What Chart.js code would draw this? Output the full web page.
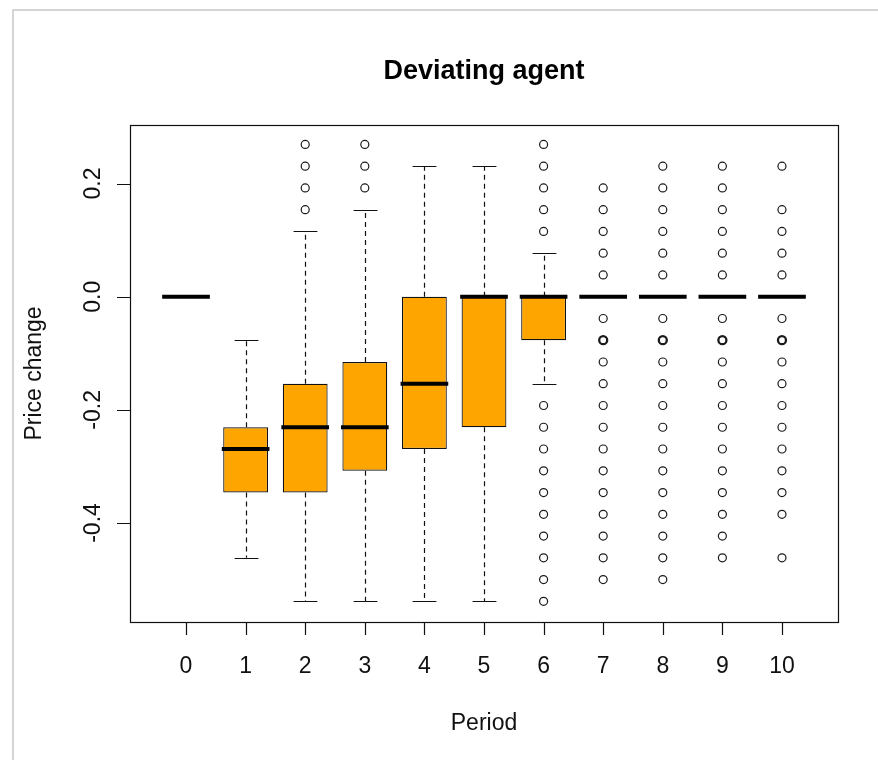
<!DOCTYPE html>
<html>
<head>
<meta charset="utf-8">
<title>Deviating agent</title>
<script src="https://cdn.jsdelivr.net/npm/chart.js@4.4.1/dist/chart.umd.min.js"></script>
<style>
  html, body { margin: 0; padding: 0; background: #fff; }
  canvas { display: block; }
</style>
</head>
<body>
<canvas id="chart" width="878" height="760"></canvas>
<script>
// values (price change per period)
const periods = [0, 1, 2, 3, 4, 5, 6, 7, 8, 9, 10];
const whiskerLow  = [0, -0.4615, -0.5385, -0.5385, -0.5385, -0.5385, -0.1538, 0, 0, 0, 0];
const lowerQuart  = [0, -0.3462, -0.3462, -0.3077, -0.2692, -0.2308, -0.0769, 0, 0, 0, 0];
const medians     = [0, -0.2692, -0.2308, -0.2308, -0.1538, 0, 0, 0, 0, 0, 0];
const upperQuart  = [0, -0.2308, -0.1538, -0.1154, 0, 0, 0, 0, 0, 0, 0];
const whiskerHigh = [0, -0.0769, 0.1154, 0.1538, 0.2308, 0.2308, 0.0769, 0, 0, 0, 0];

const outliers = [
  [],
  [],
  [0.1538, 0.1923, 0.2308, 0.2692],
  [0.1923, 0.2308, 0.2692],
  [],
  [],
  [0.1154, 0.1538, 0.1923, 0.2308, 0.2692,
   -0.1923, -0.2308, -0.2692, -0.3077, -0.3462, -0.3846, -0.4231, -0.4615, -0.5, -0.5385],
  [0.0385, 0.0769, 0.1154, 0.1538, 0.1923,
   -0.0385, -0.0769, -0.0769, -0.0769, -0.1154, -0.1538, -0.1923, -0.2308, -0.2692,
   -0.3077, -0.3462, -0.3846, -0.4231, -0.4615, -0.5],
  [0.0385, 0.0769, 0.1154, 0.1538, 0.1923, 0.2308,
   -0.0385, -0.0769, -0.0769, -0.0769, -0.1154, -0.1538, -0.1923, -0.2308, -0.2692,
   -0.3077, -0.3462, -0.3846, -0.4231, -0.4615, -0.5],
  [0.0385, 0.0769, 0.1154, 0.1538, 0.1923, 0.2308,
   -0.0385, -0.0769, -0.0769, -0.0769, -0.1154, -0.1538, -0.1923, -0.2308, -0.2692,
   -0.3077, -0.3462, -0.3846, -0.4231, -0.4615],
  [0.0385, 0.0769, 0.1154, 0.1538, 0.2308,
   -0.0385, -0.0769, -0.0769, -0.0769, -0.1154, -0.1538, -0.1923, -0.2308, -0.2692,
   -0.3077, -0.3462, -0.3846, -0.4615]
];

const yTicks = [-0.4, -0.2, 0.0, 0.2];
const yTickLabels = ['-0.4', '-0.2', '0.0', '0.2'];

const FONT = '"Liberation Sans", Arial, sans-serif';

const boxData = periods.map((p, i) => ({ x: p, y: [lowerQuart[i], upperQuart[i]] }));

// outlier points; repeated values get a heavier ring, like overplotted circles
const outlierPoints = [];
outliers.forEach((vals, i) => {
  const seen = {};
  vals.forEach(v => {
    const key = v.toFixed(4);
    if (seen[key]) { seen[key].n++; return; }
    seen[key] = { x: periods[i], y: v, n: 1 };
    outlierPoints.push(seen[key]);
  });
});

const boxPlugin = {
  id: 'boxParts',
  beforeDraw(chart) {
    const { ctx } = chart;
    ctx.save();
    ctx.fillStyle = '#fff';
    ctx.fillRect(0, 0, chart.width, chart.height);
    ctx.strokeStyle = '#c8c8c8';
    ctx.lineWidth = 1.5;
    ctx.beginPath();
    ctx.moveTo(13, chart.height);
    ctx.lineTo(13, 10);
    ctx.lineTo(chart.width, 10);
    ctx.stroke();
    ctx.restore();
  },
  beforeDatasetsDraw(chart) {
    const { ctx, scales: { x, y } } = chart;
    const half = (x.getPixelForValue(1) - x.getPixelForValue(0)) * 0.2;
    ctx.save();
    ctx.strokeStyle = '#111';
    ctx.lineWidth = 1.2;
    periods.forEach((p, i) => {
      const px = Math.round(x.getPixelForValue(p)) + 0.5;
      ctx.setLineDash([5, 4]);
      ctx.beginPath();
      ctx.moveTo(px, y.getPixelForValue(upperQuart[i]));
      ctx.lineTo(px, y.getPixelForValue(whiskerHigh[i]));
      ctx.moveTo(px, y.getPixelForValue(lowerQuart[i]));
      ctx.lineTo(px, y.getPixelForValue(whiskerLow[i]));
      ctx.stroke();
      ctx.setLineDash([]);
      ctx.beginPath();
      [whiskerHigh[i], whiskerLow[i]].forEach(w => {
        const py = Math.round(y.getPixelForValue(w)) + 0.5;
        ctx.moveTo(px - half, py);
        ctx.lineTo(px + half, py);
      });
      ctx.stroke();
    });
    ctx.restore();
  },
  afterDatasetsDraw(chart) {
    const { ctx, scales: { x, y } } = chart;
    const half = (x.getPixelForValue(1) - x.getPixelForValue(0)) * 0.4;
    ctx.save();
    ctx.strokeStyle = '#000';
    ctx.lineWidth = 4;
    periods.forEach((p, i) => {
      const px = x.getPixelForValue(p);
      const py = y.getPixelForValue(medians[i]);
      ctx.beginPath();
      ctx.moveTo(px - half, py);
      ctx.lineTo(px + half, py);
      ctx.stroke();
    });
    ctx.restore();
  },
  afterDraw(chart) {
    const { ctx, chartArea: a, scales: { x, y } } = chart;
    ctx.save();
    ctx.strokeStyle = '#111';
    ctx.lineWidth = 1.2;
    ctx.strokeRect(Math.round(a.left) + 0.5, Math.round(a.top) + 0.5,
      Math.round(a.right - a.left), Math.round(a.bottom - a.top));

    ctx.fillStyle = '#111';
    ctx.font = '23px ' + FONT;
    ctx.textAlign = 'center';
    ctx.textBaseline = 'alphabetic';

    // x axis ticks
    ctx.beginPath();
    periods.forEach(p => {
      const px = Math.round(x.getPixelForValue(p)) + 0.5;
      ctx.moveTo(px, a.bottom);
      ctx.lineTo(px, a.bottom + 13);
    });
    ctx.stroke();
    periods.forEach(p => {
      ctx.fillText(String(p), x.getPixelForValue(p), a.bottom + 51);
    });

    // y axis ticks, labels along the axis
    ctx.beginPath();
    yTicks.forEach(t => {
      const py = Math.round(y.getPixelForValue(t)) + 0.5;
      ctx.moveTo(a.left, py);
      ctx.lineTo(a.left - 13, py);
    });
    ctx.stroke();
    yTicks.forEach((t, i) => {
      ctx.save();
      ctx.translate(a.left - 30, y.getPixelForValue(t));
      ctx.rotate(-Math.PI / 2);
      ctx.fillText(yTickLabels[i], 0, 0);
      ctx.restore();
    });

    const cx = (a.left + a.right) / 2;
    ctx.fillText('Period', cx, 730);
    ctx.save();
    ctx.translate(41, (a.top + a.bottom) / 2);
    ctx.rotate(-Math.PI / 2);
    ctx.fillText('Price change', 0, 0);
    ctx.restore();

    ctx.fillStyle = '#000';
    ctx.font = 'bold 27px ' + FONT;
    ctx.fillText('Deviating agent', cx, 79);
    ctx.restore();
  }
};

new Chart(document.getElementById('chart'), {
  type: 'bar',
  data: {
    datasets: [
      {
        type: 'scatter',
        data: outlierPoints,
        pointStyle: 'circle',
        pointRadius: 4,
        pointHoverRadius: 4,
        backgroundColor: 'rgba(0,0,0,0)',
        borderColor: '#1a1a1a',
        pointBorderWidth: ctx => (ctx.raw && ctx.raw.n > 1 ? 2.3 : 1.2),
        order: 1
      },
      {
        type: 'bar',
        data: boxData,
        backgroundColor: '#FFA500',
        borderColor: '#111',
        borderWidth: 1.2,
        borderSkipped: false,
        barPercentage: 0.8,
        categoryPercentage: 1,
        order: 2
      }
    ]
  },
  options: {
    responsive: false,
    animation: false,
    layout: { padding: { left: 130, right: 40, top: 125, bottom: 138 } },
    plugins: {
      legend: { display: false },
      tooltip: { enabled: false },
      title: { display: false }
    },
    events: [],
    scales: {
      x: { type: 'linear', min: -0.94, max: 10.94, offset: false, display: false },
      y: { type: 'linear', min: -0.575, max: 0.3035, display: false }
    }
  },
  plugins: [boxPlugin]
});
</script>
</body>
</html>
